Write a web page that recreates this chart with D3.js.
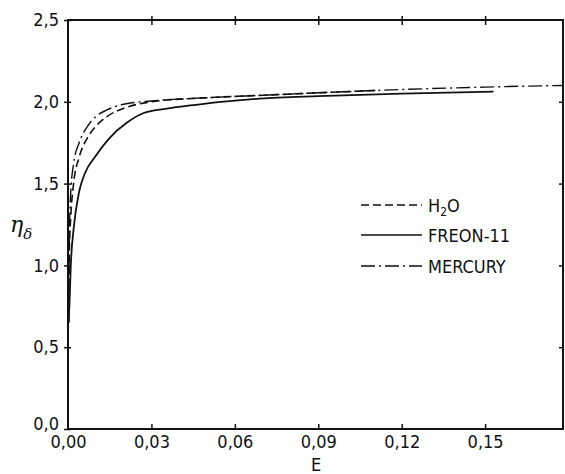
<!DOCTYPE html>
<html>
<head>
<meta charset="utf-8">
<script src="https://cdn.jsdelivr.net/npm/d3@7"></script>
<style>
  body { margin: 0; background: #fff; }
  text { font-family: "DejaVu Sans Condensed", "DejaVu Sans", sans-serif; fill: #111; }
</style>
</head>
<body>
<svg id="chart" width="565" height="474"></svg>
<script>
// values
var xTicks = [0, 0.03, 0.06, 0.09, 0.12, 0.15];
var xTickLabels = ["0,00", "0,03", "0,06", "0,09", "0,12", "0,15"];
var yTicks = [0, 0.5, 1.0, 1.5, 2.0, 2.5];
var yTickLabels = ["0,0", "0,5", "1,0", "1,5", "2,0", "2,5"];

var seriesNames = ["H\u2082O", "FREON-11", "MERCURY"];

var h2oE   = [0.0002, 0.0005, 0.001, 0.002, 0.004, 0.007, 0.010, 0.014, 0.020, 0.025, 0.030, 0.050, 0.070, 0.090, 0.112];
var h2oEta = [0.65,   1.10,   1.30,  1.50,  1.66,  1.78,  1.85,  1.91,  1.96,  1.985, 2.00,  2.025, 2.04,  2.055, 2.07];

var freonE   = [0.0002, 0.0005, 0.001, 0.002, 0.004, 0.006, 0.010, 0.015, 0.021, 0.027, 0.036, 0.045, 0.055, 0.069, 0.090, 0.120, 0.153];
var freonEta = [0.65,   0.75,   1.00,  1.22,  1.45,  1.56,  1.67,  1.78,  1.87,  1.93,  1.96,  1.98,  2.00,  2.02,  2.035, 2.05,  2.062];

var mercE   = [0.0002, 0.0005, 0.001, 0.002, 0.004, 0.007, 0.010, 0.014, 0.020, 0.030, 0.050, 0.070, 0.090, 0.120, 0.150, 0.178];
var mercEta = [0.65,   1.20,   1.45,  1.62,  1.75,  1.85,  1.91,  1.95,  1.985, 2.005, 2.025, 2.04,  2.055, 2.075, 2.09,  2.10];

var svg = d3.select("#chart");
// note: "top" is taken by window.top, so plot edges get a prefix
var plotL = 68, plotR = 563, plotT = 20, plotB = 429;

var x = d3.scaleLinear().domain([0, 0.178]).range([plotL, plotR]);
var y = d3.scaleLinear().domain([0, 2.5]).range([plotB, plotT]);

// frame
svg.append("rect")
    .attr("x", plotL).attr("y", plotT)
    .attr("width", plotR - plotL).attr("height", plotB - plotT)
    .attr("fill", "none").attr("stroke", "#111").attr("stroke-width", 2);

var bottomAxis = svg.append("g")
    .attr("transform", "translate(0," + plotB + ")")
    .call(d3.axisBottom(x).tickValues(xTicks).tickSizeOuter(0)
        .tickFormat(function(d, i) { return xTickLabels[i]; }));
bottomAxis.selectAll(".tick line").attr("y1", function(d) { return d == 0 ? 0 : -5; }).attr("y2", 0)
    .attr("stroke", "#111").attr("stroke-width", 1.5);
bottomAxis.selectAll(".tick text").attr("y", 6).attr("dy", "0.71em")
    .style("font-size", "18px").attr("fill", "#111");

var topAxis = svg.append("g")
    .attr("transform", "translate(0," + plotT + ")")
    .call(d3.axisTop(x).tickValues(xTicks.slice(1)).tickSizeOuter(0).tickFormat(""));
topAxis.selectAll(".tick line").attr("y1", -4).attr("y2", 5)
    .attr("stroke", "#111").attr("stroke-width", 1.5);

var leftAxis = svg.append("g")
    .attr("transform", "translate(" + plotL + ",0)")
    .call(d3.axisLeft(y).tickValues(yTicks).tickSizeOuter(0)
        .tickFormat(function(d, i) { return yTickLabels[i]; }));
leftAxis.selectAll(".tick line").attr("x1", -4).attr("x2", 3)
    .attr("stroke", "#111").attr("stroke-width", 1.5);
leftAxis.selectAll(".tick text").attr("x", -9).attr("dy", function(d) { return d == 0 ? "0.0em" : "0.32em"; })
    .style("font-size", "18px").attr("fill", "#111");

var rightAxis = svg.append("g")
    .attr("transform", "translate(" + plotR + ",0)")
    .call(d3.axisRight(y).tickValues(yTicks.slice(1, 5)).tickSizeOuter(0).tickFormat(""));
rightAxis.selectAll(".tick line").attr("x1", -4).attr("x2", 0)
    .attr("stroke", "#111").attr("stroke-width", 1.5);

svg.selectAll(".domain").remove();

// axis titles
svg.append("text").attr("x", 316).attr("y", 471)
    .attr("text-anchor", "middle").style("font-size", "18px").text("E");
var yl = svg.append("text").attr("x", 10).attr("y", 232)
    .style("font-size", "22px").style("font-style", "italic")
    .style("font-family", "'DejaVu Serif', serif");
yl.append("tspan").text("\u03B7");
yl.append("tspan").attr("dy", 7).style("font-size", "15px").text("\u03B4");

// curves
var line = d3.line()
    .x(function(d) { return x(d[0]); })
    .y(function(d) { return y(d[1]); })
    .curve(d3.curveMonotoneX);

var styles = [
    { dash: "8,4", width: 1.6 },
    { dash: null, width: 1.8 },
    { dash: "14,4,2,4", width: 1.4 }
];
var series = [
    d3.zip(h2oE, h2oEta),
    d3.zip(freonE, freonEta),
    d3.zip(mercE, mercEta)
];

series.forEach(function(pts, i) {
    svg.append("path")
        .datum(pts)
        .attr("d", line)
        .attr("fill", "none")
        .attr("stroke", "#111")
        .attr("stroke-width", styles[i].width)
        .attr("stroke-dasharray", styles[i].dash);
});

// legend
var legendY = [205, 235, 266];
seriesNames.forEach(function(name, i) {
    svg.append("line")
        .attr("x1", 361).attr("x2", 422)
        .attr("y1", legendY[i]).attr("y2", legendY[i])
        .attr("stroke", "#111").attr("stroke-width", 1.4)
        .attr("stroke-dasharray", styles[i].dash);
    var t = svg.append("text").attr("x", 428).attr("y", legendY[i] + 7)
        .style("font-size", "18px");
    if (i == 0) {
        t.append("tspan").text("H");
        t.append("tspan").attr("dy", 4).style("font-size", "12px").text("2");
        t.append("tspan").attr("dy", -4).text("O");
    } else {
        t.text(name);
    }
});
</script>
</body>
</html>
